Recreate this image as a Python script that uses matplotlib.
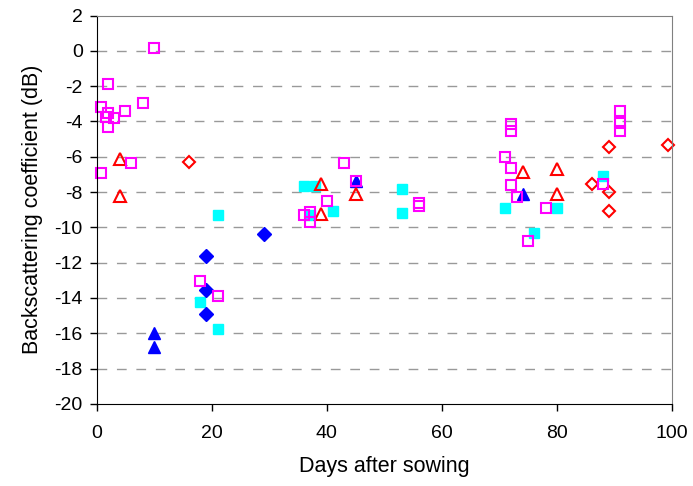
import matplotlib
matplotlib.use("Agg")
import matplotlib.pyplot as plt

plt.rcParams['font.family'] = ['Liberation Sans', 'DejaVu Sans']
plt.rcParams['axes.unicode_minus'] = False

# cyan filled squares
cyan_x = [21, 18, 21, 36, 38, 41, 37, 53, 53, 71, 80, 76, 88]
cyan_y = [-9.3, -14.25, -15.75, -7.65, -7.65, -9.1, -9.3, -7.85, -9.2, -8.9, -8.9, -10.3, -7.1]

# blue filled diamonds
bdia_x = [19, 19, 19, 29]
bdia_y = [-11.6, -13.55, -14.9, -10.35]

# blue filled triangles
btri_x = [10, 10, 45, 74]
btri_y = [-16.0, -16.8, -7.4, -8.1]

# red open triangles
rtri_x = [4, 4, 39, 39, 45, 74, 80, 80]
rtri_y = [-6.1, -8.2, -7.55, -9.25, -8.1, -6.85, -6.7, -8.1]

# red open diamonds
rdia_x = [16, 86, 89, 89, 89, 99.3]
rdia_y = [-6.3, -7.55, -5.45, -8.0, -9.05, -5.35]

# magenta open squares
mag_x = [10, 2, 0.7, 8, 2, 5, 3, 1.6, 2, 6, 0.7, 18, 21, 43, 45, 40, 36, 37, 37,
         56, 56, 72, 72, 71, 72, 72, 73, 78, 75, 91, 91, 91, 88]
mag_y = [0.17, -1.9, -3.2, -2.95, -3.5, -3.4, -3.8, -3.75, -4.3, -6.35, -6.9,
         -13.05, -13.9, -6.35, -7.4, -8.5, -9.3, -9.15, -9.7, -8.6, -8.8,
         -4.15, -4.55, -6.0, -6.65, -7.6, -8.3, -8.9, -10.8, -3.4, -4.1, -4.55, -7.55]

fig = plt.figure(figsize=(6.93, 4.86), dpi=100)
ax = fig.add_axes([0.1395, 0.169, 0.8305, 0.799])

for yv in range(-18, 2, 2):
    ax.axhline(yv, color='#999999', lw=1, dashes=(7, 7), zorder=0)

ax.plot(cyan_x, cyan_y, 's', ms=7.5, color='#00FFFF', mec='#00FFFF', clip_on=False)
ax.plot(bdia_x, bdia_y, 'D', ms=7, color='#0000FF', clip_on=False)
ax.plot(btri_x, btri_y, '^', ms=8.5, color='#0000FF', clip_on=False)
ax.plot(rtri_x, rtri_y, '^', ms=8.5, mfc='none', mec='#FF0000', mew=1.5, clip_on=False)
ax.plot(rdia_x, rdia_y, 'D', ms=6.5, mfc='none', mec='#FF0000', mew=1.5, clip_on=False)
ax.plot(mag_x, mag_y, 's', ms=7, mfc='none', mec='#FF00FF', mew=1.5, clip_on=False)

ax.set_xlim(0, 100)
ax.set_ylim(-20, 2)
ax.set_xticks(range(0, 101, 20))
ax.set_yticks(range(-20, 3, 2))
ax.tick_params(direction='out', length=5, labelsize=14, width=1)
ax.tick_params(axis='y', pad=5)
ax.tick_params(axis='x', pad=10)

ax.spines['left'].set_color('black')
ax.spines['bottom'].set_color('black')
ax.spines['top'].set_color('#808080')
ax.spines['right'].set_color('#808080')

ax.set_xlabel('Days after sowing', fontsize=15.5, labelpad=10)
ax.set_ylabel('Backscattering coefficient (dB)', fontsize=15.5, labelpad=8)

fig.savefig('out.png', dpi=100)
